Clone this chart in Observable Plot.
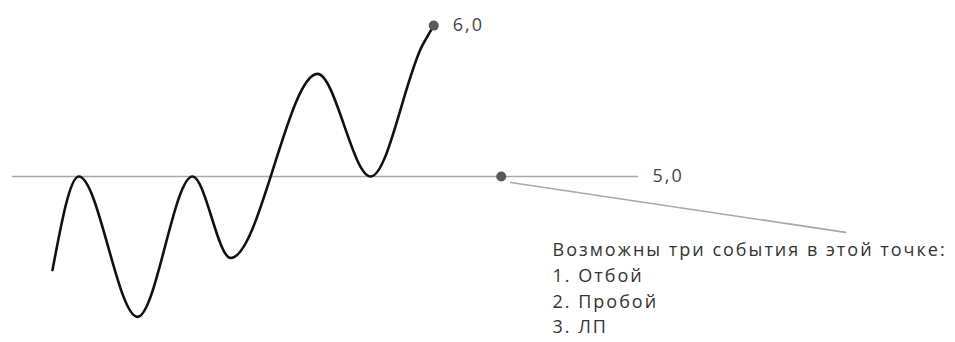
<!DOCTYPE html>
<html>
<head>
<meta charset="utf-8">
<script src="https://cdn.jsdelivr.net/npm/d3@7"></script>
<script src="https://cdn.jsdelivr.net/npm/@observablehq/plot@0.6"></script>
<style>
  html, body { margin: 0; padding: 0; background: #fff; }
  #chart svg { font-family: "Open Sans", sans-serif; display: block; }
  #chart svg text { letter-spacing: 2px; }
</style>
</head>
<body>
<div id="chart"></div>
<script>
// Price path (time index, price level)
const waveT = [6.4, 10.6, 20.0, 28.8, 34.9, 48.8, 57.3, 65.6, 67.4];
const waveP = [4.38, 5.0, 4.07, 5.0, 4.46, 5.68, 5.0, 5.87, 6.0];

// Horizontal level
const levelT = [0, 100];
const levelP = 5.0;

// Highlighted points
const pointT = [67.4, 78.2];
const pointP = [6.0, 5.0];

// Value labels
const topLabel = "6,0";
const levelLabel = "5,0";

// Callout leader line
const calloutT = [79.7, 133.3];
const calloutP = [4.96, 4.63];

// Callout text
const noteLines = [
  "Возможны три события в этой точке:",
  "1. Отбой",
  "2. Пробой",
  "3. ЛП"
];
const noteT = 86.4;
const noteP = [4.51, 4.34, 4.17, 4.0];

const wave = waveT.map((t, i) => ({t, p: waveP[i]}));
const level = levelT.map(t => ({t, p: levelP}));
const points = pointT.map((t, i) => ({t, p: pointP[i]}));
const callout = calloutT.map((t, i) => ({t, p: calloutP[i]}));
const notes = noteLines.map((s, i) => ({t: noteT, p: noteP[i], s}));

const chart = Plot.plot({
  width: 955,
  height: 342,
  marginLeft: 12,
  marginRight: 318,
  marginTop: 10,
  marginBottom: 0,
  x: {domain: [0, 100], axis: null},
  y: {domain: [3.9, 6.1], axis: null},
  marks: [
    Plot.line(level, {x: "t", y: "p", stroke: "#a8a8a8", strokeWidth: 1.6}),
    Plot.line(callout, {x: "t", y: "p", stroke: "#a8a8a8", strokeWidth: 1.6}),
    Plot.line(wave, {x: "t", y: "p", curve: "monotone-x", stroke: "#111", strokeWidth: 2.6}),
    Plot.dot(points, {x: "t", y: "p", r: 5, fill: "#5a5a5a"}),
    Plot.text([{t: pointT[0], p: pointP[0], s: topLabel}], {x: "t", y: "p", text: "s", dx: 19, textAnchor: "start", fontSize: 18, fill: "#444"}),
    Plot.text([{t: levelT[1], p: levelP, s: levelLabel}], {x: "t", y: "p", text: "s", dx: 15, textAnchor: "start", fontSize: 18, fill: "#444"}),
    Plot.text(notes, {x: "t", y: "p", text: "s", textAnchor: "start", fontSize: 18, fill: "#333"})
  ]
});
document.getElementById("chart").appendChild(chart);
</script>
</body>
</html>
